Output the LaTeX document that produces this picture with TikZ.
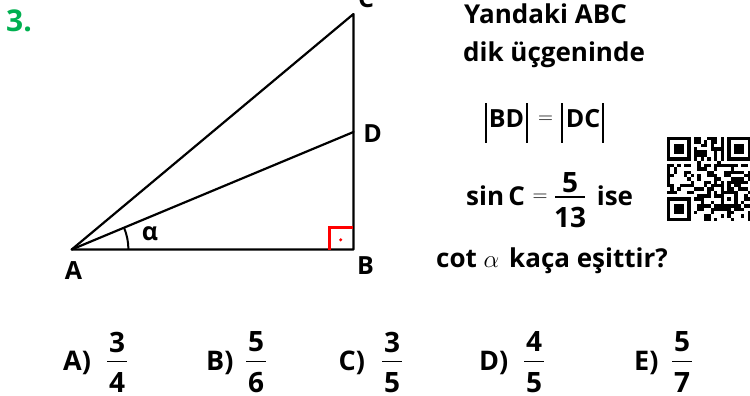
\documentclass[tikz,border=0pt]{standalone}
\usepackage{fontspec}
\setmainfont{Open Sans}
\definecolor{qgreen}{HTML}{00B050}
\definecolor{rightred}{HTML}{FF0000}
\tikzset{
  lbl/.style={font=\fontsize{25}{30}\selectfont\bfseries, inner sep=0pt},
  txt/.style={font=\fontsize{26}{30}\selectfont\bfseries, inner sep=0pt, anchor=base west},
  anslbl/.style={font=\fontsize{27}{30}\selectfont\bfseries, inner sep=0pt, anchor=base west},
  dig/.style={font=\fontsize{28}{32}\selectfont\bfseries, inner sep=0pt},
  eqs/.style={font=\fontsize{22}{26}\selectfont, inner sep=0pt},
  side/.style={line width=2.2pt, line cap=round, line join=round},
  fracbar/.style={line width=1.4pt},
  absbar/.style={line width=1.3pt},
}
\newcommand\qrbox[4]{\fill[#4] ({667+(#1)*3.36},{137+(#2)*3.36}) rectangle ++({(#3)*3.36},{(#3)*3.36});}
\begin{document}
\begin{tikzpicture}[x=1pt,y=-1pt]
\useasboundingbox (0,0) rectangle (750,396);
\fill[white] (0,0) rectangle (750,396);
% number
\node[font=\fontsize{30}{34}\selectfont\bfseries, text=qgreen, inner sep=0pt] (num) at (19,20.5) {3.};
% triangle
\coordinate (A) at (71.7,249.5);
\coordinate (B) at (353.5,249.5);
\coordinate (C) at (353.5,14);
\coordinate (D) at (353.5,132);
\draw[side] (A) -- (B) -- (C) -- cycle;
\draw[side] (A) -- (D);
\draw[line width=2pt] (A) ++(56.7,0) arc[start angle=0, end angle=-22.7, radius=56.7];
\draw[rightred, line width=3pt] (329.5,249.5) -- (329.5,227.5) -- (352.5,227.5);
\fill[rightred] (340.7,239.8) circle (1.7);
\node[lbl] (alpha) at (150,234) {α};
\node[lbl] (la) at (73.5,271) {A};
\node[lbl] (lb) at (365.5,266) {B};
\node[lbl] (lc) at (366,-1) {C};
\node[lbl] (ld) at (372.5,134) {D};
% text
\node[txt] (t1) at (464,24) {Yandaki ABC};
\node[txt] (t2) at (463,62) {dik üçgeninde};
\node[lbl, anchor=base] (bd) at (506.5,127) {BD};
\node[lbl, anchor=base] (dc) at (583,127) {DC};
\node[eqs] (eq1) at (545.5,120) {$=$};
\draw[absbar] (486,103) -- (486,143);
\draw[absbar] (527,103) -- (527,143);
\draw[absbar] (562,103) -- (562,143);
\draw[absbar] (603,103) -- (603,143);
\node[txt] (sinc) at (466,205) {sin\,C};
\node[eqs] (eq2) at (540,198) {$=$};
\node[dig] (n0) at (570,183) {5};
\node[dig] (d0) at (570,217) {13};
\draw[fracbar] (555,197) -- (585,197);
\node[txt, anchor=base] (ise) at (615,205) {ise};
\node[txt] (cot) at (436,267) {cot};
\node[font=\fontsize{25}{30}\selectfont, inner sep=0pt, anchor=base] (ca) at (491.5,267) {$\alpha$};
\node[txt] (q) at (509,267) {kaça eşittir?};
% answers
\foreach \L/\lx/\fx/\n/\d in {A/63/117/3/4, B/206/256/5/6, C/338.5/392/3/5, D/479/534/4/5, E/634/682/5/7}{
  \node[anslbl] (ans\L) at (\lx,370) {\L)};
  \node[dig] (num\L) at (\fx,342) {\n};
  \node[dig] (den\L) at (\fx,382.5) {\d};
  \draw[fracbar] (\fx-10,361.5) -- (\fx+10,361.5);
}
% QR code (pattern approximated)
\pgfmathsetseed{4242}
\foreach \i in {0,...,24}{
  \foreach \j in {0,...,24}{
    \pgfmathtruncatemacro\bit{rnd<0.5}
    \ifnum\bit=1 \qrbox{\i}{\j}{1.02}{black}\fi
  }
}
\foreach \px/\py in {0/0,17/0,0/17}{
  \qrbox{\px}{\py}{8}{white}
}
\foreach \px/\py in {0/0,18/0,0/18}{
  \qrbox{\px}{\py}{7}{black}
  \qrbox{\px+1}{\py+1}{5}{white}
  \qrbox{\px+2}{\py+2}{3}{black}
}
\foreach \k in {8,...,16}{
  \pgfmathtruncatemacro\ev{mod(\k,2)}
  \ifnum\ev=0 \qrbox{\k}{6}{1.02}{black}\qrbox{6}{\k}{1.02}{black}\else \qrbox{\k}{6}{1}{white}\qrbox{6}{\k}{1}{white}\fi
}
\qrbox{16}{16}{5}{black}
\qrbox{17}{17}{3}{white}
\qrbox{18}{18}{1}{black}
\end{tikzpicture}
\end{document}
